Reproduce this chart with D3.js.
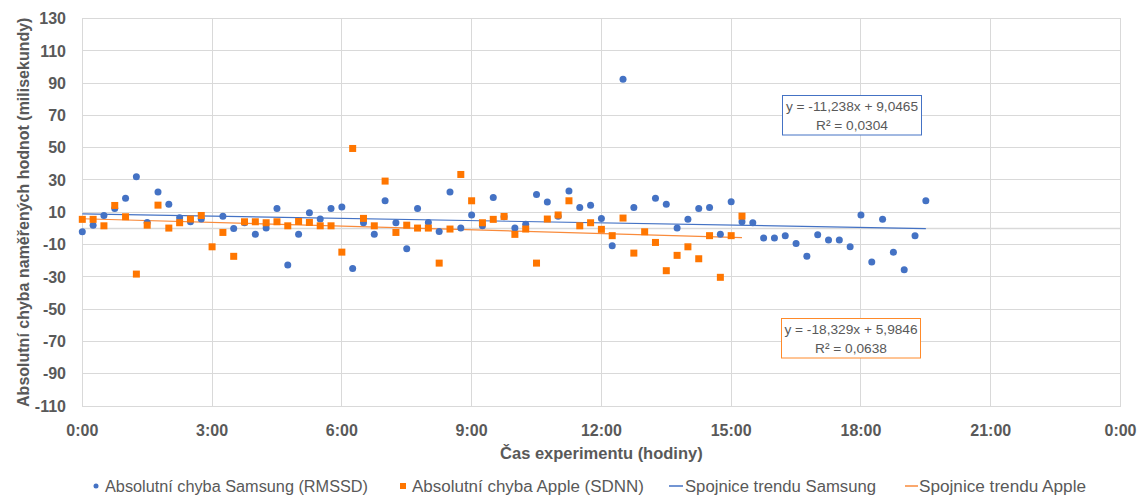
<!DOCTYPE html>
<html><head><meta charset="utf-8">
<script src="https://cdn.jsdelivr.net/npm/d3@7"></script>
<style>html,body{margin:0;padding:0;background:#fff;}svg{display:block;font-family:"Liberation Sans",Arial,sans-serif;}</style>
</head><body>
<svg id="chart" width="1143" height="497"></svg>
<script>
// ---- data ----
const samsungTimes = ["0:00","0:15","0:30","0:45","1:00","1:15","1:30","1:45","2:00","2:15","2:30","2:45",
 "3:15","3:30","3:45","4:00","4:15","4:30","4:45","5:00","5:15","5:30","5:45","6:00","6:15","6:30","6:45",
 "7:00","7:15","7:30","7:45","8:00","8:15","8:30","8:45","9:00","9:15","9:30","9:45","10:00","10:15","10:30","10:45",
 "11:00","11:15","11:30","11:45","12:00","12:15","12:30","12:45",
 "13:15","13:30","13:45","14:00","14:15","14:30","14:45","15:00","15:15","15:30","15:45","16:00","16:15","16:30","16:45",
 "17:00","17:15","17:30","17:45","18:00","18:15","18:30","18:45","19:00","19:15","19:30"];
const samsungValues = [-2,2,8,12.4,18.6,32,3.7,22.5,15,6.6,4.1,5.8,
 7.6,0,3.5,-3.7,0.2,12.4,-22.7,-3.7,9.7,5.8,12.4,13.2,-24.8,3.5,-3.7,
 17.1,3.5,-12.6,12.4,3.7,-1.9,22.5,0.2,8.3,1.6,19.2,7.2,0.2,2.5,21,16.3,
 7.6,23.1,13,14.4,6.2,-10.7,92.4,13,
 18.6,15,0.2,5.6,12.4,13,-3.7,16.5,4.1,3.5,-6,-6,-4.5,-9.3,-17.3,
 -3.9,-7.2,-7.2,-11.4,8.3,-20.8,5.6,-14.7,-25.6,-4.5,17.1];
const appleTimes = ["0:00","0:15","0:30","0:45","1:00","1:15","1:30","1:45","2:00","2:15","2:30","2:45",
 "3:00","3:15","3:30","3:45","4:00","4:15","4:30","4:45","5:00","5:15","5:30","5:45","6:00","6:15","6:30","6:45",
 "7:00","7:15","7:30","7:45","8:00","8:15","8:30","8:45","9:00","9:15","9:30","9:45","10:00","10:15","10:30","10:45",
 "11:00","11:15","11:30","11:45","12:00","12:15","12:30","12:45","13:00","13:15","13:30","13:45","14:00","14:15","14:30","14:45",
 "15:00","15:15"];
const appleValues = [5.6,5.6,1.6,14.2,7.2,-28.3,2,14.4,0.2,3.5,5.8,8,
 -11.4,-2.5,-17.3,4.1,4.1,3.5,4.1,1.6,4.3,3.7,1.6,1.6,-14.7,49.5,6.2,1.6,
 29.3,-2.5,2,0.2,0.2,-21.5,-0.4,33.4,17.1,3.5,5.6,7.4,-3.7,-0.4,-21.5,5.8,
 8.3,17.1,1.6,3.5,-0.6,-4.5,6.4,-15.3,-2.1,-8.7,-26.2,-16.7,-11.4,-18.8,-4.5,-30.3,
 -4.5,7.6];
// trend lines (x in days, as in Excel)
const trendSeries = ["Samsung","Apple"];
const trendSlopes = [-11.238, -18.329];
const trendIntercepts = [9.0465, 5.9846];
const trendEquations = ["y = -11,238x + 9,0465","y = -18,329x + 5,9846"];
const trendR2 = ["R² = 0,0304","R² = 0,0638"];
const xTickLabels = ["0:00","3:00","6:00","9:00","12:00","15:00","18:00","21:00","0:00"];
const yTicks = [130,110,90,70,50,30,10,-10,-30,-50,-70,-90,-110];
const legendLabels = ["Absolutní chyba Samsung (RMSSD)","Absolutní chyba Apple (SDNN)","Spojnice trendu Samsung","Spojnice trendu Apple"];

// ---- setup ----
const blue = "#4472C4", orange = "#FF7600", orangeLine = "#F98B3C", grid = "#D9D9D9", txt = "#595959";
const toMin = s => { const [h,m] = s.split(":").map(Number); return h*60+m; };
const svg = d3.select("#chart");
const x = d3.scaleLinear().domain([0, 24*60]).range([82.3, 1120.5]);
const y = d3.scaleLinear().domain([-110, 130]).range([406, 18.5]);

// gridlines
svg.append("g").selectAll("line").data(yTicks).join("line")
  .attr("x1", x(0)).attr("x2", x(1440)).attr("y1", d=>y(d)).attr("y2", d=>y(d))
  .attr("stroke", grid).attr("stroke-width", 1).attr("shape-rendering","crispEdges");
svg.append("line").attr("x1", x(0)).attr("x2", x(1440)).attr("y1", y(0)).attr("y2", y(0))
  .attr("stroke", grid).attr("stroke-width", 1.5);
const xTickVals = xTickLabels.map((d,i)=>i*180);
svg.append("g").selectAll("line").data(xTickVals).join("line")
  .attr("x1", d=>x(d)).attr("x2", d=>x(d)).attr("y1", y(130)).attr("y2", y(-110))
  .attr("stroke", grid).attr("stroke-width", 1).attr("shape-rendering","crispEdges");

// axis labels
svg.append("g").selectAll("text").data(yTicks).join("text")
  .attr("x", 66).attr("y", d=>y(d)).attr("dy","0.36em").attr("text-anchor","end")
  .attr("font-size", 16).attr("font-weight","bold").attr("fill", txt).text(d=>d);
svg.append("g").selectAll("text").data(xTickLabels).join("text")
  .attr("x", (d,i)=>x(xTickVals[i])).attr("y", 430).attr("dy","0.36em").attr("text-anchor","middle")
  .attr("font-size", 16).attr("font-weight","bold").attr("fill", txt).text(d=>d);
svg.append("text").attr("x", x(720)).attr("y", 453).attr("dy","0.36em").attr("text-anchor","middle")
  .attr("font-size", 16.5).attr("font-weight","bold").attr("fill", txt).text("Čas experimentu (hodiny)");
svg.append("text").attr("transform", `translate(23,${y(10)}) rotate(-90)`).attr("dy","0.36em").attr("text-anchor","middle")
  .attr("font-size", 16).attr("font-weight","bold").attr("fill", txt).text("Absolutní chyba naměřených hodnot (milisekundy)");

// trend lines
const seriesTimes = [samsungTimes, appleTimes];
const trendColors = [blue, orangeLine];
trendSeries.forEach((s,i) => {
  const t0 = toMin(seriesTimes[i][0]), t1 = toMin(seriesTimes[i][seriesTimes[i].length-1]);
  const f = t => trendSlopes[i]*(t/1440) + trendIntercepts[i];
  svg.append("line").attr("x1", x(t0)).attr("x2", x(t1)).attr("y1", y(f(t0))).attr("y2", y(f(t1)))
    .attr("stroke", trendColors[i]).attr("stroke-width", 1.2);
});

// points
svg.append("g").selectAll("circle").data(samsungTimes).join("circle")
  .attr("cx", d=>x(toMin(d))).attr("cy", (d,i)=>y(samsungValues[i])).attr("r", 3.5).attr("fill", blue);
svg.append("g").selectAll("rect").data(appleTimes).join("rect")
  .attr("x", d=>x(toMin(d))-3.5).attr("y", (d,i)=>y(appleValues[i])-3.5).attr("width", 7).attr("height", 7).attr("fill", orange);

// equation boxes
const boxes = [{x:782.5, y:95.5, c:blue}, {x:781.5, y:318.5, c:"#FF8A2A"}];
boxes.forEach((b,i) => {
  const g = svg.append("g");
  g.append("rect").attr("x", b.x).attr("y", b.y).attr("width", 139).attr("height", 39.5)
    .attr("fill","#fff").attr("stroke", b.c).attr("stroke-width", 1);
  g.append("text").attr("x", b.x+69.5).attr("y", b.y+11).attr("dy","0.36em").attr("text-anchor","middle")
    .attr("font-size", 13.7).attr("fill", txt).text(trendEquations[i]);
  g.append("text").attr("x", b.x+69.5).attr("y", b.y+29.5).attr("dy","0.36em").attr("text-anchor","middle")
    .attr("font-size", 13.7).attr("fill", txt).text(trendR2[i]);
});

// legend
const ly = 486;
const lg = svg.append("g").attr("font-size", 16).attr("fill", txt);
lg.append("circle").attr("cx", 96).attr("cy", ly).attr("r", 2.5).attr("fill", blue);
lg.append("text").attr("x", 105).attr("y", ly).attr("dy","0.36em").attr("textLength", 263).attr("lengthAdjust","spacingAndGlyphs").text(legendLabels[0]);
lg.append("rect").attr("x", 400).attr("y", ly-3).attr("width", 6).attr("height", 6).attr("fill", orange);
lg.append("text").attr("x", 412).attr("y", ly).attr("dy","0.36em").attr("textLength", 232).attr("lengthAdjust","spacingAndGlyphs").text(legendLabels[1]);
lg.append("line").attr("x1", 669).attr("x2", 683).attr("y1", ly).attr("y2", ly).attr("stroke", blue).attr("stroke-width", 1.5);
lg.append("text").attr("x", 685).attr("y", ly).attr("dy","0.36em").attr("textLength", 191).attr("lengthAdjust","spacingAndGlyphs").text(legendLabels[2]);
lg.append("line").attr("x1", 905).attr("x2", 918).attr("y1", ly).attr("y2", ly).attr("stroke", orangeLine).attr("stroke-width", 1.5);
lg.append("text").attr("x", 919).attr("y", ly).attr("dy","0.36em").attr("textLength", 167).attr("lengthAdjust","spacingAndGlyphs").text(legendLabels[3]);
</script>
</body></html>
